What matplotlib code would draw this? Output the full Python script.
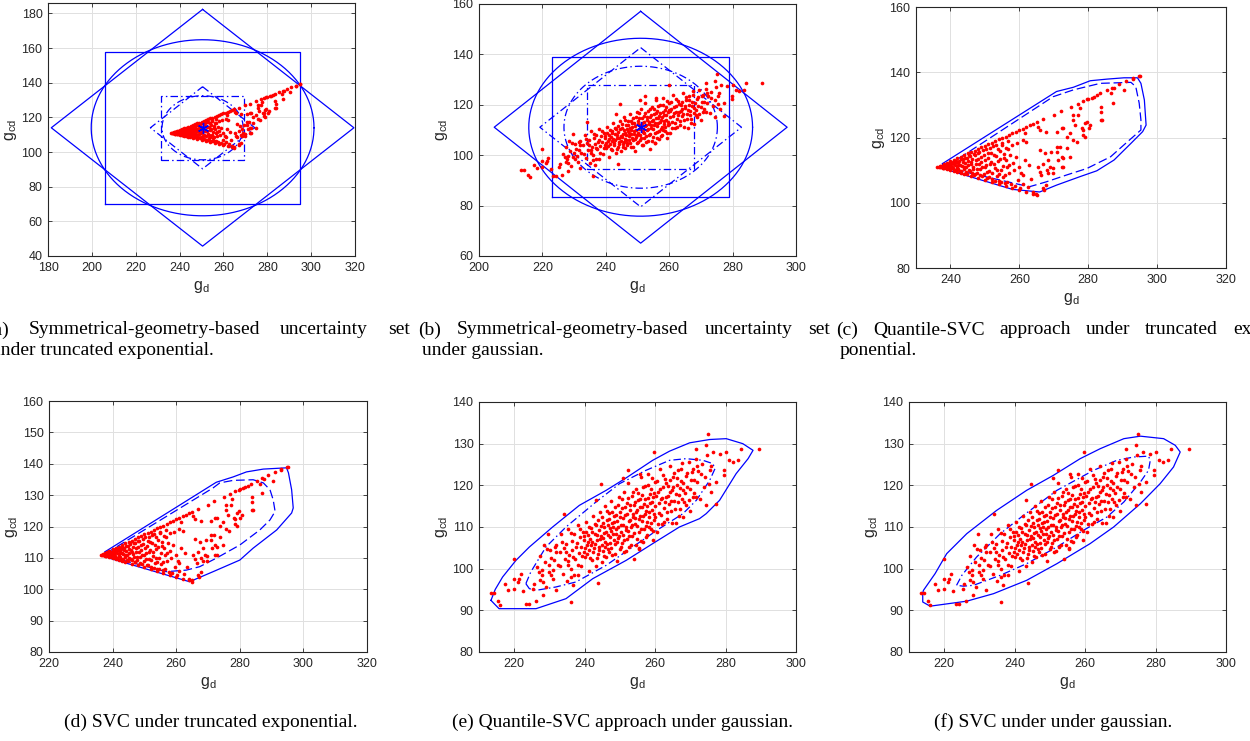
import numpy as np
import matplotlib.pyplot as plt

plt.rcParams['font.family'] = ['Liberation Sans', 'DejaVu Sans']
plt.rcParams['mathtext.fontset'] = 'custom'
plt.rcParams['mathtext.rm'] = 'Liberation Sans'

# ---- data ----
# truncated exponential samples (g_d, g_cd)
exp_pts = [
    # points lying on the upper edge of the fan
    (238, 111.7), (239, 112.2), (240, 112.7), (241, 113.2), (242, 113.6), (243, 114.1),
    (244, 114.6), (245, 115.1), (246, 115.5), (247, 116.0), (248, 116.5), (249, 117.0),
    (250, 117.5), (251, 117.9), (252, 118.4), (253, 118.9), (254, 119.4), (255, 119.9),
    (256, 120.3), (257, 120.8), (258, 121.3), (259, 121.8), (260, 122.3), (261, 122.7),
    (262, 123.2), (263, 123.7), (264, 124.2), (265, 124.7), (267, 125.6), (270, 127.0),
    (272, 128.0), (275, 129.4), (277, 130.4), (278.6, 131.3), (280, 131.8), (281.1, 132.2),
    (282.5, 133.0), (283.5, 133.6), (285.5, 134.6), (287, 135.3), (289, 136.3), (291, 137.3),
    (293, 138.2), (295, 139.0),
    # lower edge
    (238, 110.6), (239, 110.3), (240, 110.0), (241, 109.7), (242, 109.4), (243, 109.1),
    (244, 108.8), (246, 108.2), (248, 107.6), (250, 107.0), (252, 106.4), (254, 105.8),
    (256, 105.2), (258, 104.6), (260, 104.0), (262, 103.4), (264, 102.8),
    # dense part near the tip
    (236.2, 111.0), (236.9, 110.9), (237.4, 111.2), (237.7, 110.7), (238.1, 111.3), (238.4, 110.9),
    (238.7, 111.6), (239.0, 110.6), (239.3, 111.1), (239.6, 111.8), (239.9, 110.3), (240.2, 111.4),
    (240.5, 112.1), (240.8, 110.7), (241.1, 111.9), (241.4, 110.1), (241.7, 112.5), (242.0, 111.2),
    (242.3, 110.4), (242.6, 112.9), (242.9, 111.7), (243.2, 109.8), (243.5, 113.3), (243.8, 110.9),
    (244.1, 112.2), (244.4, 109.4), (244.7, 113.8), (245.0, 111.5), (245.3, 110.0), (245.6, 114.3),
    (245.9, 112.6), (246.2, 109.2), (246.5, 111.1), (246.8, 114.9), (247.1, 108.7), (247.4, 113.1),
    (247.7, 110.4), (248.0, 115.4), (248.3, 112.0), (248.6, 108.4), (248.9, 114.0), (249.2, 110.9),
    (249.5, 116.1), (249.8, 108.9), (250.1, 113.2), (250.4, 111.5), (250.7, 107.6), (251.0, 115.3),
    (251.3, 109.8), (251.6, 116.8), (251.9, 112.4), (252.2, 107.2), (252.5, 114.6), (252.8, 110.5),
    (253.1, 117.6), (253.4, 108.3), (253.7, 112.9), (254.0, 106.6), (254.3, 115.8), (254.6, 110.1),
    (254.9, 118.2),
    (236.6, 111.0), (237.0, 111.2), (237.2, 110.9), (237.5, 111.4), (237.9, 110.6), (238.2, 111.8),
    (238.6, 110.8), (238.8, 111.3), (239.1, 112.0), (239.4, 110.5), (239.7, 111.5), (240.0, 112.3),
    (240.1, 110.6), (240.4, 111.1), (240.7, 112.6), (241.0, 109.9), (241.3, 111.5), (241.6, 112.9),
    (241.9, 110.6), (242.2, 112.3), (242.4, 111.7), (242.7, 109.7), (243.0, 113.4), (243.3, 111.2),
    (243.6, 112.6), (243.9, 110.2), (244.2, 113.8), (244.5, 111.0), (244.8, 108.9), (245.1, 112.9),
    (245.4, 114.6), (245.7, 109.7), (246.0, 111.8), (246.3, 113.4), (246.6, 110.4), (246.9, 108.6),
    (247.2, 114.6), (247.5, 111.9), (247.8, 109.2), (248.1, 113.5), (248.4, 115.5), (248.7, 110.2),
    (249.0, 112.6), (249.3, 108.1), (249.6, 114.5), (249.9, 111.0), (250.2, 116.5), (250.5, 109.5),
    (250.8, 113.8), (251.1, 107.8), (251.4, 111.9), (251.7, 115.1), (252.0, 109.2), (252.3, 117.3),
    (252.6, 112.0), (252.9, 106.8), (253.2, 114.2), (253.5, 110.1), (253.8, 116.6), (254.1, 108.8),
    (254.4, 113.5), (254.7, 106.5), (255.0, 117.8), (255.3, 111.4), (255.6, 115.0), (255.9, 108.6),
    (256.2, 113.0), (256.5, 106.5), (256.8, 116.6), (257.1, 111.7),
    # middle
    (255.2, 108.0), (255.5, 113.7), (255.8, 106.1), (256.1, 116.9), (256.4, 111.0), (256.7, 119.0),
    (257.0, 109.1), (257.3, 114.6), (257.6, 105.6), (257.9, 117.8), (258.2, 112.3), (258.5, 110.0),
    (258.8, 105.2), (259.0, 114.1), (259.2, 118.2), (259.6, 107.0), (260.0, 111.0), (260.3, 104.4),
    (260.6, 109.0), (261.0, 119.2), (261.0, 108.5), (261.0, 105.9), (261.5, 121.3), (261.5, 113.1),
    (262.0, 118.7), (262.5, 104.9), (262.9, 111.5), (263.5, 107.2), (264.0, 103.3), (264.9, 102.8),
    (265.0, 102.3),
    # sparse right part
    (265.4, 111.0), (265.4, 123.3), (265.9, 122.3), (265.9, 109.5), (266.0, 116.1), (266.4, 108.5),
    (266.9, 104.4), (266.9, 112.0), (267.2, 103.9), (267.4, 115.1), (267.8, 121.8), (267.8, 105.4),
    (267.9, 110.0), (268.3, 113.1), (268.4, 109.0), (268.9, 111.0), (269.3, 115.6), (269.8, 110.5),
    (269.8, 109.0), (270.8, 117.2), (270.8, 121.8), (270.8, 115.6), (271.3, 113.1), (271.8, 117.2),
    (272.3, 114.1), (272.3, 111.0), (272.3, 122.8), (272.7, 113.6), (272.7, 122.8), (272.7, 111.0),
    (273.7, 120.2), (273.7, 116.7), (274.7, 121.3), (274.7, 114.1), (275.7, 119.2), (275.7, 125.4),
    (275.7, 126.9), (276.2, 123.8), (276.7, 118.7), (277.1, 127.0), (277.6, 128.9), (278.1, 122.8),
    (278.6, 120.8), (278.6, 122.3), (279.1, 124.3), (279.1, 120.2), (279.6, 124.9), (279.6, 131.7),
    (280.1, 122.8), (280.6, 123.8), (281.6, 132.5), (283.7, 129.5), (283.7, 125.4), (283.8, 127.9),
    (284.0, 125.4), (286.5, 133.6), (287.1, 130.7), (287.5, 135.1), (290.4, 134.6), (293.1, 137.9),
    (294.8, 139.0),
]

# gaussian samples (g_d, g_cd)
gau_pts = [
    # lower-left tail
    (213.4, 94.2), (214.3, 94.2), (215.3, 92.2), (216.0, 91.2), (217.4, 96.2), (218.2, 95.0),
    (219.8, 102.4), (219.8, 97.6), (219.8, 95.2), (221.1, 96.8), (221.9, 98.8), (221.4, 97.6),
    (222.6, 94.6), (223.3, 91.6), (224.3, 91.6), (225.2, 95.2), (225.7, 96.4), (226.2, 92.2),
    (227.1, 99.2), (227.3, 97.2), (228.2, 96.8), (228.2, 93.6), (228.5, 105.6), (229.5, 108.4),
    (230.0, 100.8), (230.4, 98.4), (229.0, 95.6), (231.4, 102.0), (231.8, 94.8), (231.8, 105.6),
    (234.0, 113.0), (233.7, 106.4), (234.7, 104.0), (235.2, 100.8), (236.1, 91.9), (236.6, 96.0),
    (236.9, 98.4), (243.7, 96.6), (243.2, 116.4),
    # upper-right tail
    (275.0, 132.2), (274.5, 129.6), (271.7, 128.8), (276.4, 128.0), (278.3, 127.6), (280.2, 128.0),
    (284.3, 128.8), (289.4, 128.6), (281.1, 126.0), (282.1, 125.6), (283.5, 126.0), (279.7, 123.6),
    (279.7, 122.4), (277.2, 120.8), (275.9, 118.4), (277.3, 115.4), (274.5, 115.2), (270.7, 117.2),
    (268.8, 115.2), (267.9, 112.4), (273.1, 122.8), (275.5, 123.6), (264.1, 118.4), (259.8, 128.0),
    (255.8, 122.6), (252.4, 123.6), (250.8, 121.8), (255.4, 104.8), (244.6, 120.4),
    # core
    (226.5, 100.4), (227.3, 103.1), (227.9, 98.6), (228.6, 101.7), (229.2, 104.8), (229.8, 99.3),
    (230.5, 102.6), (231.1, 97.4), (231.7, 105.1), (232.3, 100.9), (232.9, 103.9), (233.4, 108.2),
    (233.8, 98.8), (234.3, 102.2), (234.8, 106.0), (235.2, 109.6), (235.6, 103.3), (236.0, 100.0),
    (236.3, 106.7), (235.0, 97.1),
    (236.5, 104.5), (237.0, 108.2), (237.2, 102.3), (237.8, 106.1), (238.0, 110.4), (238.3, 103.7),
    (238.6, 107.5), (238.9, 105.2), (239.1, 100.6), (239.4, 108.9), (239.7, 104.1), (239.9, 106.8),
    (240.2, 102.9), (240.4, 111.2), (240.6, 105.7), (240.9, 108.1), (241.1, 99.4), (241.3, 104.6),
    (241.6, 107.2), (241.8, 109.8),
    (242.0, 102.1), (242.2, 106.3), (242.4, 112.6), (242.7, 104.9), (242.9, 108.4), (243.1, 100.7),
    (243.3, 110.5), (243.5, 106.9), (243.8, 103.4), (244.0, 109.3), (244.2, 105.2), (244.4, 113.7),
    (244.7, 107.8), (244.9, 101.6), (245.1, 110.9), (245.3, 104.3), (245.5, 108.6), (245.7, 115.0),
    (245.9, 106.4), (246.1, 102.8),
    (246.3, 111.8), (246.5, 108.1), (246.7, 104.7), (246.9, 113.4), (247.1, 109.7), (247.3, 106.2),
    (247.5, 116.2), (247.7, 110.9), (247.9, 103.3), (248.1, 108.4), (248.3, 112.7), (248.5, 105.9),
    (248.7, 114.9), (248.9, 109.5), (249.1, 101.8), (249.3, 111.4), (249.5, 107.3), (249.7, 117.1),
    (249.9, 104.8), (250.1, 112.3),
    (250.3, 108.7), (250.5, 114.6), (250.7, 106.2), (250.9, 110.6), (251.1, 118.3), (251.3, 103.9),
    (251.5, 112.9), (251.7, 109.2), (251.9, 115.7), (252.1, 107.0), (252.3, 120.6), (252.5, 111.5),
    (252.7, 105.1), (252.9, 114.0), (253.1, 109.9), (253.3, 117.4), (253.5, 107.9), (253.7, 112.3),
    (253.9, 102.4), (254.1, 115.2),
    (254.3, 110.8), (254.5, 119.0), (254.7, 113.6), (254.9, 107.1), (255.1, 116.4), (255.3, 111.9),
    (255.5, 104.9), (255.7, 114.8), (255.9, 121.9), (256.1, 109.4), (256.3, 117.6), (256.5, 112.7),
    (256.7, 106.3), (256.9, 115.5), (257.1, 119.9), (257.3, 110.2), (257.5, 113.9), (257.7, 108.1),
    (257.9, 117.0), (258.1, 122.8),
    (258.3, 112.5), (258.5, 115.8), (258.7, 109.6), (258.9, 119.1), (259.1, 114.0), (259.3, 106.9),
    (259.5, 117.2), (259.7, 111.8), (259.9, 120.8), (260.1, 115.1), (260.4, 108.9), (260.7, 118.4),
    (261.0, 113.3), (261.3, 123.9), (261.6, 116.6), (261.9, 110.7), (262.2, 119.6), (262.5, 114.5),
    (262.8, 121.4), (263.1, 117.3), (263.4, 111.9), (263.7, 119.9), (264.0, 115.6), (264.3, 124.6),
    (264.6, 113.8), (264.9, 118.8), (265.2, 121.9), (265.5, 116.3), (265.8, 110.9), (266.1, 120.1),
    (266.4, 123.6), (266.7, 117.7), (267.0, 114.4), (267.3, 121.0), (267.6, 125.3), (267.9, 118.9),
    (268.3, 116.0), (268.7, 122.2), (269.1, 119.6), (269.5, 125.7), (269.9, 113.9), (270.3, 121.3),
    (270.7, 124.0), (271.1, 118.2), (271.5, 126.4), (271.9, 120.7), (272.3, 123.4), (272.8, 116.8),
    (273.3, 125.1), (273.8, 119.5), (274.3, 122.0), (274.8, 127.2), (275.3, 120.2), (275.8, 124.6),
    (240.1, 105.0), (240.3, 108.9), (240.7, 103.6), (241.0, 106.4), (241.2, 110.0), (241.5, 102.5),
    (241.9, 105.8), (242.1, 108.9), (242.5, 104.0), (242.8, 110.8), (243.0, 106.0), (243.4, 102.6),
    (243.6, 108.1), (243.9, 111.6), (244.1, 104.6), (244.3, 107.0), (244.6, 110.2), (244.8, 105.7),
    (245.0, 112.4), (245.2, 107.3), (245.4, 103.1), (245.6, 109.9), (245.8, 105.2), (246.0, 108.8),
    (246.2, 113.9), (246.4, 106.0), (246.6, 110.4), (246.8, 103.9), (247.0, 112.0), (247.2, 107.6),
    (247.4, 109.0), (247.6, 105.0), (247.8, 113.6), (248.0, 110.1), (248.2, 106.9), (248.4, 111.3),
    (248.6, 103.4), (248.8, 108.3), (249.0, 112.9), (249.2, 106.4), (249.4, 115.3), (249.6, 109.9),
    (249.8, 107.9), (250.0, 113.5), (250.2, 105.3), (250.4, 110.5), (250.6, 116.6), (250.8, 108.0),
    (251.0, 112.1), (251.2, 106.8), (251.4, 114.8), (251.6, 110.0), (251.8, 104.2), (252.0, 113.0),
    (252.2, 109.0), (252.4, 116.9), (252.6, 107.8), (252.8, 111.8), (253.0, 115.3), (253.2, 105.6),
    (253.4, 110.4), (253.6, 113.1), (253.8, 118.5), (254.0, 108.6), (254.2, 112.1), (254.4, 116.0),
    (254.6, 105.6), (254.8, 110.3), (255.0, 114.0), (255.2, 118.2), (255.4, 108.8), (255.6, 112.6),
    (255.8, 116.6), (256.0, 106.7), (256.2, 111.4), (256.4, 114.7), (256.6, 119.6), (256.8, 109.6),
    (257.0, 113.2), (257.2, 116.8), (257.4, 107.5), (257.6, 111.2), (257.8, 115.1), (258.0, 120.0),
    (258.2, 109.9), (258.4, 113.6), (258.6, 117.8), (258.8, 111.0), (259.0, 116.1), (259.2, 121.7),
    (259.4, 109.0), (259.6, 113.2), (259.8, 118.1), (260.0, 112.4), (260.2, 117.4), (260.5, 121.0),
    (260.8, 110.8), (261.1, 115.7), (261.4, 119.0), (261.7, 112.9), (262.0, 117.0), (262.3, 122.4),
    (262.6, 111.1), (262.9, 115.9), (263.2, 120.5), (263.5, 113.5), (263.8, 117.5), (264.1, 121.3),
    (264.4, 116.3), (264.7, 111.0), (265.0, 119.5), (265.3, 123.0), (265.6, 114.3), (265.9, 118.0),
    (266.2, 121.8), (266.5, 115.9), (266.8, 112.7), (267.1, 119.4), (267.4, 123.8), (267.7, 116.6),
    (268.0, 120.6), (268.5, 118.1), (269.0, 122.9), (269.5, 116.5), (270.0, 119.0), (270.5, 123.3),
    (271.0, 121.3), (271.5, 117.1), (272.0, 124.7), (233.0, 100.6), (234.1, 104.9), (235.4, 101.9),
    (236.2, 108.5), (236.8, 102.8), (237.5, 105.1), (238.1, 100.9), (238.8, 109.5), (239.3, 103.0),
    (239.8, 107.8), (231.0, 99.8), (232.0, 104.0), (236.0, 97.9), (238.0, 98.4), (228.0, 99.6),
    (230.2, 104.6),
]

# symmetric geometry sets: centre, diamond half-axes, circle radius, box half-sides (outer, inner)
a_center = (250.5, 114.0)
a_diamond = [(69.0, 68.3), (23.8, 23.7)]
a_circle = [50.8, 18.5]
a_box = [(44.3, 44.0), (18.8, 18.6)]

b_center = (251.0, 111.1)
b_diamond = [(46.2, 46.0), (31.8, 31.6)]
b_circle = [35.3, 24.2]
b_box = [(28.0, 27.7), (16.8, 16.6)]

# SVC boundaries (outer solid, inner dashed)
c_outer = [(237.7, 112.0), (270.8, 134.1), (275.7, 135.4), (280.6, 137.4), (285.5, 137.9),
           (290.4, 138.3), (294.3, 138.3), (295.3, 136.6), (296.3, 131.5), (296.8, 123.8),
           (295.8, 121.8), (292.4, 118.2), (287.5, 113.1), (282.5, 109.8), (277.6, 108.0),
           (270.8, 105.4), (265.9, 103.3), (258.0, 104.1), (239.4, 110.0), (238.2, 110.5)]
c_inner = [(239.4, 111.5), (269.8, 132.5), (275.7, 134.6), (283.5, 136.6), (292.4, 136.9),
           (293.8, 135.6), (294.8, 130.5), (295.3, 125.4), (295.3, 122.3), (291.4, 118.7),
           (286.5, 114.1), (279.6, 110.5), (273.7, 108.5), (267.8, 106.4), (262.9, 104.9),
           (239.8, 110.5)]

d_outer = [(237.7, 112.0), (272.6, 134.1), (277.9, 135.8), (282.1, 137.4), (287.4, 138.3),
           (294.7, 138.7), (295.3, 137.1), (296.3, 131.7), (296.8, 125.9), (296.3, 124.3),
           (291.6, 118.9), (284.2, 113.1), (280.0, 109.3), (271.6, 105.6), (264.2, 102.4),
           (239.0, 109.9), (238.0, 111.0)]
d_inner = [(238.0, 111.5), (271.6, 132.3), (273.7, 133.9), (277.9, 134.7), (284.2, 134.9),
           (287.4, 133.9), (289.5, 131.7), (290.5, 128.5), (291.1, 124.8), (289.5, 122.1),
           (286.3, 118.9), (280.0, 114.1), (272.6, 109.9), (267.4, 107.2), (263.2, 106.1),
           (256.8, 105.6), (239.0, 110.4)]

e_outer = [(213.4, 92.4), (214.6, 95.0), (216.7, 98.0), (220.5, 102.0), (224.3, 105.2),
           (230.9, 110.0), (238.5, 115.2), (246.1, 118.8), (251.8, 121.8), (259.3, 126.0),
           (264.1, 128.2), (269.8, 130.2), (275.5, 131.0), (280.2, 131.2), (284.9, 130.0),
           (287.8, 128.4), (286.4, 126.4), (283.0, 122.8), (278.3, 116.4), (274.5, 113.2),
           (272.6, 112.0), (266.9, 110.0), (259.3, 106.0), (251.8, 102.0), (242.3, 97.6),
           (234.7, 92.8), (226.2, 90.4), (215.7, 90.4), (214.3, 91.6)]
e_inner = [(223.3, 96.4), (224.7, 99.2), (229.0, 105.2), (234.7, 110.0), (243.2, 116.0),
           (249.9, 120.4), (257.4, 123.6), (264.1, 126.0), (268.8, 126.4), (273.6, 126.0),
           (276.4, 125.2), (277.0, 124.0), (275.5, 121.2), (271.7, 116.4), (267.9, 113.2),
           (261.2, 109.6), (253.6, 105.2), (246.1, 100.8), (237.5, 96.8), (231.8, 95.6),
           (226.2, 94.8), (224.3, 95.2)]

f_outer = [(213.9, 94.2), (213.9, 92.0), (216.0, 91.0), (226.4, 92.2), (234.0, 94.0),
           (243.4, 97.2), (252.0, 101.2), (261.4, 106.0), (268.1, 110.0), (275.7, 115.6),
           (281.3, 120.4), (285.1, 124.4), (287.0, 128.0), (285.6, 129.6), (282.3, 131.2),
           (275.7, 131.8), (271.0, 131.2), (264.3, 128.8), (258.6, 126.4), (251.0, 122.4),
           (243.4, 118.8), (234.9, 114.0), (226.4, 108.4), (220.7, 103.6), (217.4, 98.8),
           (214.1, 94.8)]
f_inner = [(223.5, 96.0), (225.0, 98.4), (229.2, 102.8), (235.9, 108.4), (242.5, 112.8),
           (252.0, 118.8), (262.4, 123.6), (269.0, 126.0), (273.8, 126.8), (278.0, 127.0),
           (278.5, 126.0), (278.0, 123.6), (275.7, 120.8), (271.0, 116.0), (266.2, 112.4),
           (259.5, 109.2), (252.0, 105.2), (243.4, 101.2), (235.9, 98.4), (228.3, 96.0),
           (225.4, 95.8)]

captions_top = [
    (["(a)", "Symmetrical-geometry-based", "uncertainty", "set"], "under truncated exponential."),
    (["(b)", "Symmetrical-geometry-based", "uncertainty", "set"], "under gaussian."),
    (["(c)", "Quantile-SVC", "approach", "under", "truncated", "ex-"], "ponential."),
]
captions_bottom = ["(d) SVC under truncated exponential.",
                   "(e) Quantile-SVC approach under gaussian.",
                   "(f) SVC under under gaussian."]

# ---- drawing ----
W, H = 1250, 741
fig = plt.figure(figsize=(12.5, 7.41), dpi=100)
BLUE = (0, 0, 1)
INK = '#262626'
DASHDOT = (0, (6, 2.5, 1.2, 2.5))
DASHED = (0, (7, 3))


def add_ax(l, r, t, b):
    return fig.add_axes([l / W, 1 - b / H, (r - l) / W, (b - t) / H])


def style(ax, xlim, ylim, xt, yt):
    ax.set_xlim(xlim)
    ax.set_ylim(ylim)
    ax.set_xticks(xt)
    ax.set_yticks(yt)
    ax.grid(True, color='#e0e0e0', lw=0.7)
    ax.set_axisbelow(True)
    ax.tick_params(direction='in', length=3, width=0.6, colors=INK, labelsize=9,
                   top=True, right=True, pad=4)
    for s in ax.spines.values():
        s.set_color(INK)
        s.set_linewidth(0.8)
    ax.set_xlabel(r'$\mathregular{g_d}$', fontsize=11.5, color=INK, labelpad=4)
    ax.set_ylabel(r'$\mathregular{g_{cd}}$', fontsize=11.5, color=INK, labelpad=2)


def dots(ax, pts):
    p = np.array(pts)
    ax.scatter(p[:, 0], p[:, 1], s=7, c='red', marker='o', linewidths=0, zorder=3)


def poly(ax, pts, ls):
    p = np.array(pts + pts[:1])
    ax.plot(p[:, 0], p[:, 1], color=BLUE, lw=0.9, ls=ls, zorder=2)


def sym_sets(ax, center, diamonds, circles, boxes):
    cx, cy = center
    t = np.linspace(0, 2 * np.pi, 240)
    for k, ls in enumerate(['-', DASHDOT]):
        hx, hy = diamonds[k]
        ax.plot([cx, cx + hx, cx, cx - hx, cx], [cy + hy, cy, cy - hy, cy, cy + hy],
                color=BLUE, lw=0.9, ls=ls, zorder=2)
        r = circles[k]
        ax.plot(cx + r * np.cos(t), cy + r * np.sin(t), color=BLUE, lw=0.9, ls=ls, zorder=2)
        bx, by = boxes[k]
        ax.plot([cx - bx, cx + bx, cx + bx, cx - bx, cx - bx],
                [cy - by, cy - by, cy + by, cy + by, cy - by],
                color=BLUE, lw=0.9, ls=ls, zorder=2)


# (a)
ax = add_ax(48, 355, 3, 256)
dots(ax, exp_pts)
sym_sets(ax, a_center, a_diamond, a_circle, a_box)
ax.plot(*a_center, marker=(6, 2, 0), ms=8, color=BLUE, mew=1, zorder=4)
style(ax, (180, 320), (40, 186), range(180, 321, 20), range(40, 181, 20))

# (b)
ax = add_ax(479, 796, 4, 256)
dots(ax, gau_pts)
sym_sets(ax, b_center, b_diamond, b_circle, b_box)
ax.plot(*b_center, marker=(6, 2, 0), ms=8, color=BLUE, mew=1, zorder=4)
style(ax, (200, 300), (60, 160), range(200, 301, 20), range(60, 161, 20))

# (c)
ax = add_ax(916, 1226, 7, 268)
dots(ax, exp_pts)
poly(ax, c_outer, '-')
poly(ax, c_inner, DASHED)
style(ax, (230, 320), (80, 160), range(240, 321, 20), range(80, 161, 20))

# (d)
ax = add_ax(49, 367, 401, 652)
dots(ax, exp_pts)
poly(ax, d_outer, '-')
poly(ax, d_inner, DASHED)
style(ax, (220, 320), (80, 160), range(220, 321, 20), range(80, 161, 10))

# (e)
ax = add_ax(479, 796, 402, 652)
dots(ax, gau_pts)
poly(ax, e_outer, '-')
poly(ax, e_inner, DASHDOT)
style(ax, (210, 300), (80, 140), range(220, 301, 20), range(80, 141, 10))

# (f)
ax = add_ax(909, 1226, 402, 652)
dots(ax, gau_pts)
poly(ax, f_outer, '-')
poly(ax, f_inner, DASHDOT)
style(ax, (210, 300), (80, 140), range(220, 301, 20), range(80, 141, 10))

# captions (justified first line like the paper layout)
serif = ['Liberation Serif', 'DejaVu Serif']
CAP = 14
renderer = fig.canvas.get_renderer()
spans = [(-13, 410), (418, 830), (836, 1258)]
for (words, second), (x0, x1) in zip(captions_top, spans):
    items = [fig.text(0, 1 - 330 / H, w, family=serif, fontsize=CAP, va='center', ha='left')
             for w in words]
    widths = [it.get_window_extent(renderer).width for it in items]
    gap = (x1 - x0 - sum(widths)) / (len(words) - 1)
    x = x0
    for it, w in zip(items, widths):
        it.set_x(x / W)
        x += w + gap
    fig.text((x0 + 4) / W, 1 - 351 / H, second, family=serif, fontsize=CAP, va='center', ha='left')

for txt, xc in zip(captions_bottom, [211, 623, 1053]):
    fig.text(xc / W, 1 - 722 / H, txt, family=serif, fontsize=CAP, va='center', ha='center')

fig.savefig('out.png', dpi=100)
